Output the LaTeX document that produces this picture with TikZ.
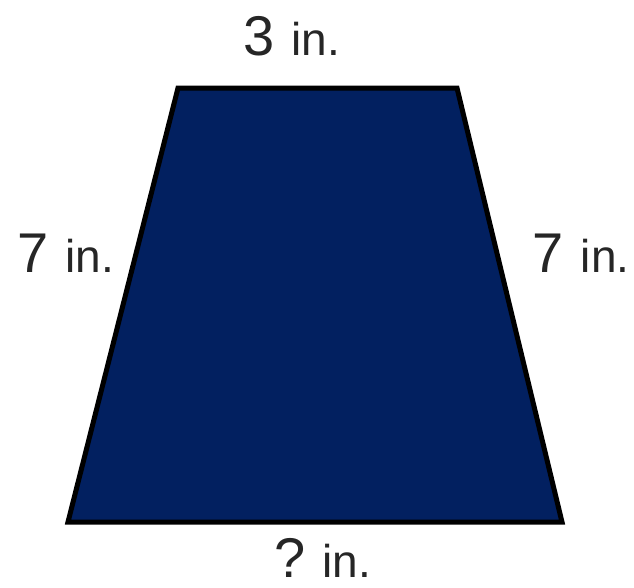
\documentclass[tikz,border=0pt]{standalone}
\usepackage{fontspec}
\setmainfont{Liberation Sans}
\definecolor{navy}{RGB}{2,32,96}
\tikzset{
  shapefill/.style={fill=navy, draw=black, line width=5pt, line join=miter},
  lbl/.style={anchor=base, inner sep=0pt, text=black!85}
}
\newcommand{\meas}[1]{\fontsize{56}{60}\selectfont #1\hspace{17pt}{\fontsize{46}{50}\selectfont in.}}
\begin{document}
\begin{tikzpicture}[x=1pt,y=-1pt]
  \useasboundingbox (0,0) rectangle (634,587);
  \coordinate (tl) at (178,88);
  \coordinate (tr) at (457,88);
  \coordinate (br) at (562,522);
  \coordinate (bl) at (68,522);
  \draw[shapefill] (tl) -- (tr) -- (br) -- (bl) -- cycle;
  \node[lbl] (top) at (292,55) {\meas{3}};
  \node[lbl] (left) at (65.5,272) {\meas{7}};
  \node[lbl] (right) at (581,272) {\meas{7}};
  \node[lbl] (bottom) at (323,577) {\meas{?}};
\end{tikzpicture}
\end{document}
